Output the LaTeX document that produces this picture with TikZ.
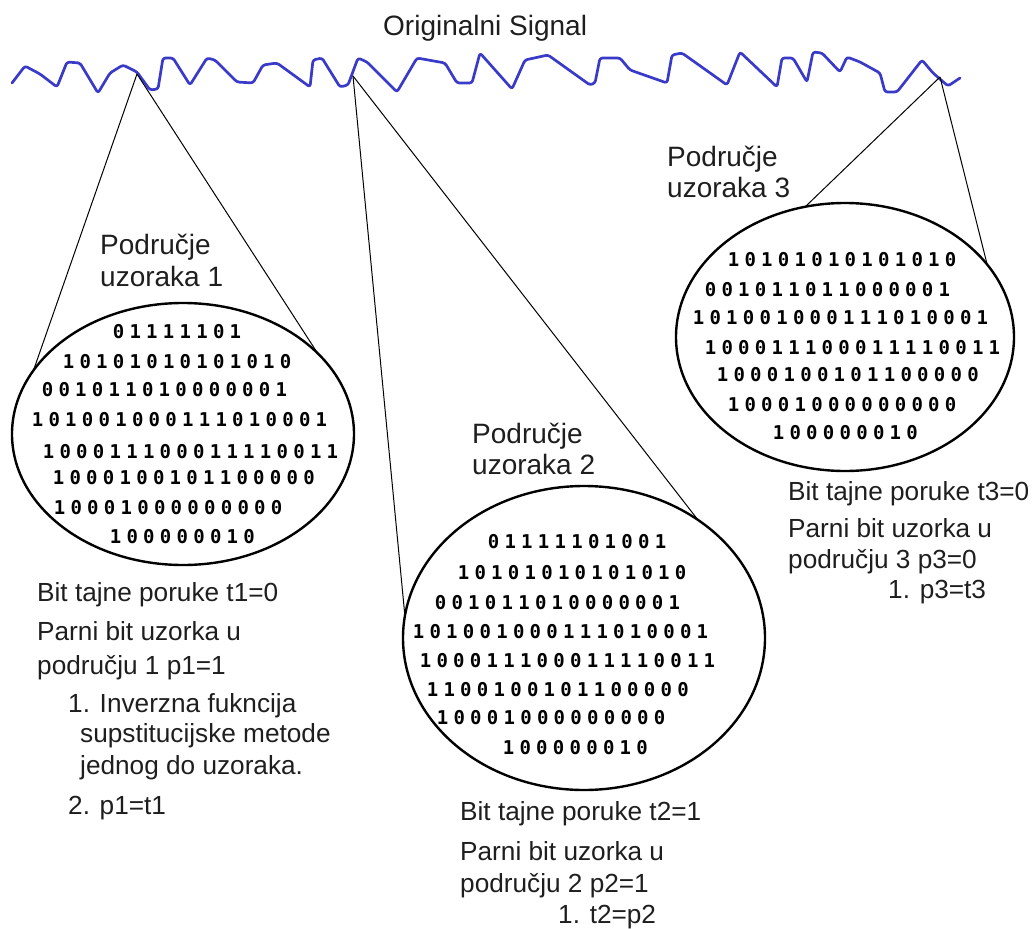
\documentclass[tikz,border=0pt]{standalone}
\usepackage{fontspec}
\setmainfont{Liberation Sans}
\newfontfamily\bitfont{DejaVu Sans Mono}
\usepackage{tikz}
\usetikzlibrary{shapes.geometric, positioning}
\definecolor{wave}{RGB}{58,58,200}
\definecolor{ink}{RGB}{30,30,30}
% one digit per fixed-width cell
\newcommand{\bitrow}[1]{\bitnext#1\relax}
\def\bitnext#1{\ifx\relax#1\else\makebox[16.7pt]{#1}\expandafter\bitnext\fi}

\begin{document}
\begin{tikzpicture}[x=1pt, y=-1pt,
    txt/.style={anchor=base west, inner sep=0, text=ink, font=\fontsize{26.2}{32}\selectfont},
    lbl/.style={txt, font=\fontsize{28}{32}\selectfont},
    bits/.style={anchor=base west, inner sep=0, font=\bitfont\bfseries\fontsize{19}{20}\selectfont},
    zone/.style={ellipse, draw, line width=2.4pt, inner sep=0, outer sep=0},
    link/.style={draw, line width=1pt}]
    \useasboundingbox (0,0) rectangle (1034,929);

    \node[lbl] (title) at (383,35) {Originalni Signal};

    % signal
    \draw[wave, line width=2.7pt, line join=round, line cap=round, rounded corners=2.5pt]
        (12,83) -- (25,66) -- (40,74) -- (57,87) -- (67,62) -- (80,63) -- (98,93)
        -- (110,73) -- (123,65) -- (137,72) -- (150,90) -- (158,89) -- (163,58)
        -- (173,58) -- (190,85) -- (207,58) -- (215,60) -- (237,82) -- (253,83)
        -- (263,65) -- (277,63) -- (310,87) -- (313,60) -- (322,58) -- (340,87)
        -- (348,85) -- (358,58) -- (367,62) -- (397,92) -- (417,58) -- (445,63)
        -- (457,83) -- (472,83) -- (480,53) -- (512,89) -- (525,60) -- (548,55)
        -- (590,85) -- (595,83) -- (600,58) -- (620,58) -- (630,70) -- (667,83)
        -- (672,55) -- (682,53) -- (727,85) -- (740,52) -- (777,87) -- (782,58)
        -- (793,58) -- (807,82) -- (813,52) -- (822,53) -- (840,72) -- (847,57)
        -- (860,62) -- (880,73) -- (885,92) -- (897,92) -- (922,60) -- (933,73)
        -- (948,86) -- (960,78);

    \coordinate (z1) at (137,74);
    \coordinate (z2) at (353,76);
    \coordinate (z3) at (940,77);

    % sample areas
    \node[zone, minimum width=342pt, minimum height=262pt] (e1) at (183,434) {};
    \node[zone, minimum width=362pt, minimum height=304pt] (e2) at (584,638) {};
    \node[zone, minimum width=338pt, minimum height=268pt] (e3) at (845,337) {};

    \draw[link] (z1) -- (e1.157.5);
    \draw[link] (z1) -- (e1.31.3);
    \draw[link] (z2) -- (e2.173.3);
    \draw[link] (z2) -- (e2.46.3);
    \draw[link] (z3) -- (e3.107.7);
    \draw[link] (z3) -- (e3.27.4);

    \node[lbl] (l1a) at (100,254) {Područje};
    \node[lbl] (l1b) at (100,286) {uzoraka 1};
    \node[lbl] (l2a) at (472,443) {Područje};
    \node[lbl] (l2b) at (472,474) {uzoraka 2};
    \node[lbl] (l3a) at (667,166) {Područje};
    \node[lbl] (l3b) at (667,197) {uzoraka 3};

    % bit rows
    \foreach \x/\y/\b [count=\i] in {113/332/01111101, 63/362/10101010101010,
        42/390/001011010000001, 32/420/101001000111010001, 43/452/100011100011110011,
        53/478/1000100101100000, 54/508/10001000000000, 110/537/100000010}
        \node[bits] (a\i) at (\x-3,\y+6.5) {\expandafter\bitrow\expandafter{\b}};
    \foreach \x/\y/\b [count=\i] in {488/542/01111101001, 458/573/10101010101010,
        435/603/001011010000001, 413/632/101001000111010001, 420/661/100011100011110011,
        427/690/1100100101100000, 437/718/10001000000000, 503/748/100000010}
        \node[bits] (b\i) at (\x-3,\y+6.5) {\expandafter\bitrow\expandafter{\b}};
    \foreach \x/\y/\b [count=\i] in {728/260/10101010101010, 705/290/001011011000001,
        693/318/101001000111010001, 705/348/100011100011110011, 717/375/1000100101100000,
        728/405/10001000000000, 773/433/100000010}
        \node[bits] (c\i) at (\x-3,\y+6.5) {\expandafter\bitrow\expandafter{\b}};

    % notes
    \node[txt] (n1a) at (37,601) {Bit tajne poruke t1=0};
    \node[txt] (n1b) at (37,640) {Parni bit uzorka u};
    \node[txt] (n1c) at (37,674) {području 1 p1=1};
    \node[txt] (n1d) at (68,712) {1. Inverzna fukncija};
    \node[txt] (n1e) at (80,742) {supstitucijske metode};
    \node[txt] (n1f) at (80,774) {jednog do uzoraka.};
    \node[txt] (n1g) at (68,814) {2. p1=t1};

    \node[txt] (n2a) at (460,820) {Bit tajne poruke t2=1};
    \node[txt] (n2b) at (460,860) {Parni bit uzorka u};
    \node[txt] (n2c) at (460,892) {području 2 p2=1};
    \node[txt] (n2d) at (558,923) {1. t2=p2};

    \node[txt] (n3a) at (788,500) {Bit tajne poruke t3=0};
    \node[txt] (n3b) at (788,537) {Parni bit uzorka u};
    \node[txt] (n3c) at (788,568) {području 3 p3=0};
    \node[txt] (n3d) at (888,598) {1. p3=t3};
\end{tikzpicture}
\end{document}
